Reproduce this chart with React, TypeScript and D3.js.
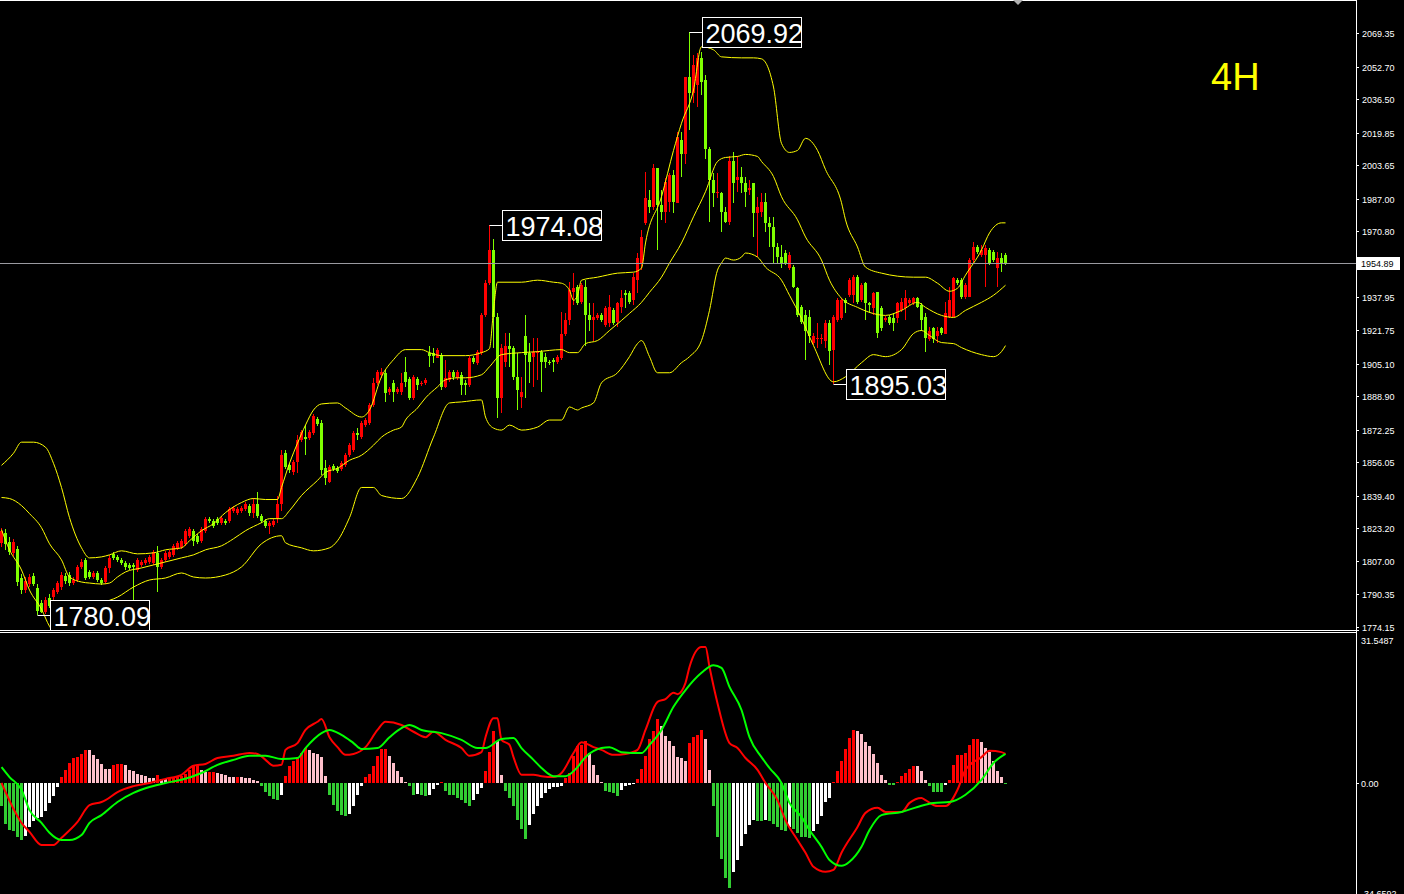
import React from 'react';
import * as d3 from 'd3';

// 4H candles, gold (one candle = 4px)
const opens = [
  1816, 1821, 1816.5, 1811, 1813, 1798.5, 1792.5, 1795.5, 1799.5, 1793.5,
  1786, 1781.5, 1788.5, 1789, 1791.5, 1794, 1799.5, 1800, 1796, 1797.5,
  1804, 1807.5, 1801.5, 1799, 1801, 1797.5, 1796.5, 1803.5, 1810.5, 1809,
  1807.5, 1806, 1805, 1805, 1802.5, 1805, 1806, 1806.5, 1806, 1811,
  1804, 1807.5, 1809, 1810, 1813.5, 1814, 1815.5, 1819.5, 1822, 1819.5,
  1817, 1822, 1828, 1827, 1828, 1826, 1827, 1827, 1832, 1831,
  1832, 1833, 1834.5, 1831, 1835.5, 1829.5, 1827, 1824.5, 1825, 1828.5,
  1835.5, 1860.5, 1854.5, 1851, 1856, 1867, 1868.5, 1868, 1870.5, 1877.5,
  1875.5, 1853, 1846, 1854, 1853, 1852.5, 1854.5, 1859.5, 1862, 1870.5,
  1868.5, 1874.5, 1875.5, 1884.5, 1895.5, 1899.5, 1900.5, 1891, 1895.5, 1891,
  1891, 1901, 1897.5, 1888, 1897.5, 1895, 1895.5, 1910.5, 1910.5, 1908,
  1909.5, 1893.5, 1897, 1901, 1898, 1899.5, 1895.5, 1894.5, 1908, 1905.5,
  1910.5, 1929, 1945, 1961.5, 1928, 1888, 1906, 1914, 1913, 1898.5,
  1888.5, 1919, 1910.5, 1908.5, 1910.5, 1911, 1908.5, 1906, 1907, 1906,
  1908, 1920, 1926.5, 1940.5, 1943, 1935.5, 1943, 1929, 1926.5, 1927.5,
  1929, 1924, 1925, 1931.5, 1925.5, 1933, 1940, 1940, 1936.5, 1946.5,
  1955, 1975, 1986.5, 1983, 2002.5, 1984, 1980.5, 1985.5, 1999, 1985,
  2016, 2009, 2047.5, 2039.5, 2043.5, 2057, 2046, 2011.5, 1996.5, 1990,
  1990, 1980.5, 1975.5, 2005.5, 1996.5, 1998, 1995, 1991.5, 1995, 1980,
  1980.5, 1985.5, 1975, 1973, 1963, 1958, 1960, 1952.5, 1953, 1942.5,
  1933, 1929, 1928, 1915.5, 1917.5, 1917.5, 1916.5, 1925, 1912, 1926.5,
  1927.5, 1936.5, 1939, 1939, 1948, 1936.5, 1945, 1935, 1932.5, 1940.5,
  1932.5, 1926.5, 1928, 1927.5, 1927.5, 1931.5, 1932.5, 1935, 1935, 1937.5,
  1934, 1928, 1917.5, 1922.5, 1919, 1922.5, 1920, 1928, 1928, 1946.5,
  1946.5, 1938, 1938, 1956.5, 1963, 1959, 1959, 1961.5, 1960.5, 1952.5,
  1957.5, 1959,
];
const highs = [
  1823.5, 1823, 1819, 1818, 1814.5, 1800.5, 1799, 1800.5, 1801, 1795.5,
  1787.5, 1789, 1790.5, 1793.5, 1797, 1801.5, 1801, 1801.5, 1799, 1805,
  1808, 1808.5, 1802.5, 1802, 1802, 1798.5, 1804.5, 1810, 1811.5, 1810,
  1808.5, 1807, 1806, 1806, 1808.5, 1807.5, 1808.5, 1810, 1812.5, 1814.5,
  1808.5, 1812, 1812.5, 1815.5, 1817, 1818, 1823, 1824, 1823, 1820.5,
  1824, 1829, 1829, 1828, 1829, 1829.5, 1828, 1834, 1834.5, 1834,
  1834.5, 1836.5, 1835.5, 1838.5, 1841, 1830.5, 1828, 1827, 1828, 1839.5,
  1862, 1862, 1855.5, 1857, 1869.5, 1872, 1874.5, 1872, 1880, 1878.5,
  1877, 1857, 1854.5, 1855, 1854, 1856.5, 1860.5, 1865.5, 1871.5, 1873,
  1876.5, 1878, 1885.5, 1898, 1902, 1903, 1902, 1893.5, 1897, 1893.5,
  1900.5, 1908.5, 1898.5, 1899.5, 1898.5, 1896.5, 1898, 1914, 1913, 1913,
  1910.5, 1907, 1902, 1902, 1902, 1901, 1897, 1909, 1909, 1912,
  1930, 1946.5, 1974.08, 1967, 1930, 1915, 1920.5, 1920.5, 1914, 1910.5,
  1898.5, 1929, 1915.5, 1918, 1918, 1912, 1910.5, 1907, 1908, 1909.5,
  1930.5, 1930, 1945.5, 1950, 1944, 1945, 1946.5, 1935, 1935, 1930,
  1930, 1933.5, 1939, 1932.5, 1935.5, 1941.5, 1941.5, 1941, 1950, 1960,
  1971.5, 2000.5, 1991.5, 2004, 2002.5, 1991.5, 1997.5, 2000, 2001.5, 2020,
  2020, 2047.5, 2069.92, 2058.5, 2059.5, 2060, 2048.5, 2012.5, 2000, 2000,
  1990.5, 1983, 2008, 2010, 2008, 2003, 1998, 1996.5, 1995, 1988,
  1990, 1990, 1978, 1978, 1965, 1964, 1961.5, 1960.5, 1954, 1943,
  1934, 1931.5, 1931.5, 1920.5, 1925, 1920, 1926.5, 1926.5, 1929, 1937.5,
  1937.5, 1937.5, 1947.5, 1949, 1949, 1945, 1945.5, 1935.5, 1940.5, 1940.5,
  1933.5, 1928.5, 1929, 1930, 1935.5, 1937.5, 1941.5, 1937.5, 1938, 1938,
  1935, 1930, 1923, 1923, 1923, 1923, 1935.5, 1943, 1948, 1947.5,
  1947.5, 1945, 1957.5, 1965.5, 1964, 1964, 1964, 1962.5, 1961.5, 1960.5,
  1960, 1960,
];
const lows = [
  1814, 1812.5, 1810, 1809.5, 1794.5, 1790.5, 1791, 1794, 1794.5, 1780.09,
  1781, 1780.5, 1783.5, 1787.5, 1790.5, 1792.5, 1795.5, 1794.5, 1795, 1796.5,
  1803, 1797.5, 1798, 1798, 1796.5, 1795, 1795.5, 1801, 1807.5, 1806.5,
  1805, 1802.5, 1802.5, 1787.5, 1801.5, 1804, 1805, 1805.5, 1805, 1791.5,
  1803, 1806.5, 1808, 1809, 1812.5, 1813, 1814.5, 1818.5, 1814.5, 1815.5,
  1816, 1821, 1826, 1823.5, 1825, 1825, 1825, 1826, 1831, 1830,
  1831, 1832, 1829.5, 1828.5, 1828.5, 1826, 1823.5, 1820.5, 1824, 1826,
  1832, 1852.5, 1850.5, 1849.5, 1850.5, 1866, 1859.5, 1867, 1869.5, 1874,
  1849.5, 1844.5, 1845.5, 1851.5, 1850.5, 1851.5, 1853.5, 1858.5, 1861, 1867,
  1867.5, 1873.5, 1874.5, 1883.5, 1894.5, 1898, 1886, 1889.5, 1886, 1890,
  1889.5, 1893.5, 1887, 1887, 1892, 1894, 1894.5, 1903.5, 1905.5, 1908,
  1892, 1893, 1896, 1897, 1897, 1889.5, 1889.5, 1893.5, 1905, 1904.5,
  1909.5, 1928, 1944, 1913, 1878, 1880.5, 1903.5, 1903.5, 1897, 1882,
  1883, 1888, 1895.5, 1893.5, 1897, 1891, 1903, 1904.5, 1901, 1905,
  1907, 1919, 1924, 1934, 1934, 1934.5, 1914, 1921.5, 1916.5, 1926.5,
  1925.5, 1923, 1923, 1924, 1923, 1930, 1932.5, 1934.5, 1934, 1940,
  1951.5, 1974, 1980, 1981.5, 1961.5, 1976.5, 1975, 1980.5, 1980, 1985,
  1998, 2004, 2021, 2034.5, 2032.5, 2038.5, 2006.5, 1975.5, 1983, 1987.5,
  1970.5, 1975, 1974, 1985, 1990.5, 1990, 1983, 1989, 1968, 1958,
  1978, 1970.5, 1963, 1955, 1955, 1952.5, 1954, 1951.5, 1942.5, 1928,
  1924.5, 1907, 1915.5, 1914.5, 1913, 1915, 1913, 1904.5, 1895.03, 1925.5,
  1926.5, 1930, 1938, 1935, 1934.5, 1935.5, 1926.5, 1930, 1929, 1918,
  1921.5, 1925.5, 1924, 1921.5, 1925, 1930.5, 1926.5, 1934, 1934, 1932.5,
  1921.5, 1911, 1916.5, 1915.5, 1915.5, 1919.5, 1920, 1927.5, 1928, 1944,
  1937, 1937, 1938, 1955, 1959.5, 1958, 1943, 1954, 1955.5, 1943,
  1950.5, 1954,
];
const closes = [
  1822, 1815.5, 1811.5, 1816.5, 1796.5, 1792.5, 1797, 1799, 1795.5, 1782,
  1781.5, 1787.5, 1784.5, 1792.5, 1796, 1800, 1797, 1796, 1797.5, 1804,
  1806.5, 1798.5, 1799, 1801, 1797.5, 1796, 1803.5, 1808.5, 1808.5, 1807.5,
  1806, 1804, 1803.5, 1804, 1807.5, 1806.5, 1807.5, 1809, 1811.5, 1804,
  1807.5, 1811, 1811.5, 1814.5, 1816, 1817, 1822, 1823, 1817, 1816.5,
  1823, 1828, 1827, 1824.5, 1826, 1828.5, 1826, 1833, 1833.5, 1833,
  1833.5, 1835.5, 1831, 1835.5, 1829.5, 1827, 1824.5, 1826, 1827, 1835.5,
  1859.5, 1853.5, 1852, 1856, 1867, 1871, 1867.5, 1871, 1879, 1875,
  1852, 1848, 1853.5, 1852.5, 1851.5, 1855.5, 1859.5, 1864.5, 1870.5, 1869.5,
  1875.5, 1877, 1884.5, 1895.5, 1901, 1901, 1890.5, 1892.5, 1891, 1892.5,
  1895.5, 1896, 1888, 1898.5, 1894.5, 1895.5, 1897, 1909, 1909, 1912,
  1893.5, 1898, 1901, 1898.5, 1901, 1894.5, 1894.5, 1908, 1906, 1911,
  1929, 1945, 1961.5, 1928, 1888, 1913, 1914, 1912.5, 1898.5, 1892,
  1891, 1909.5, 1906, 1911, 1911, 1906, 1906, 1905.5, 1906, 1908.5,
  1920, 1926.5, 1941.5, 1942.5, 1935, 1944, 1929, 1926.5, 1928, 1929,
  1926.5, 1932.5, 1933, 1925, 1935, 1937.5, 1939, 1935.5, 1948, 1957.5,
  1968, 1987.5, 1983, 2002.5, 1984, 1980.5, 1995.5, 1999, 1985.5, 2017.5,
  2009, 2047.5, 2039.5, 2053.5, 2057, 2045, 2011.5, 1996.5, 1990, 1990.5,
  1980.5, 1975.5, 2005.5, 1995, 1998, 1995, 1990.5, 1992.5, 1980, 1983,
  1985.5, 1975, 1973, 1963, 1958, 1955, 1955, 1959, 1943, 1929,
  1925.5, 1921.5, 1919, 1919, 1918, 1918, 1925, 1911.5, 1928, 1936.5,
  1936.5, 1935, 1946.5, 1948, 1935.5, 1944, 1935, 1934, 1940, 1920.5,
  1922.5, 1927.5, 1925, 1925, 1935, 1935.5, 1937.5, 1936.5, 1937.5, 1933,
  1926.5, 1918, 1921.5, 1917.5, 1921.5, 1920.5, 1930, 1936.5, 1947.5, 1945,
  1938, 1944, 1956.5, 1963, 1960.5, 1961.5, 1962.5, 1955, 1956.5, 1957.5,
  1955, 1954.89,
];

// Bollinger bands, read at [candle index, price]
const upperBand: [number, number][] = [
  [0, 1854.5], [3, 1860.5], [5, 1866], [8, 1866], [11, 1863.5], [13, 1855.5], [15, 1843.5],
  [17, 1828.5], [20, 1813.5], [22, 1808.5], [25, 1809], [27, 1810], [30, 1812], [34, 1810.5],
  [38, 1811], [41, 1812.5], [45, 1813.5], [47, 1817], [50, 1822], [53, 1825.5], [56, 1831],
  [60, 1836], [63, 1838], [66, 1837.5], [69, 1837.5], [70, 1843.5], [72, 1855.5], [74, 1865.5],
  [76, 1874.5], [78, 1882], [80, 1885], [84, 1885.5], [86, 1883], [90, 1878.5], [92, 1882],
  [95, 1898.5], [98, 1907], [101, 1912], [105, 1912], [107, 1910.5], [110, 1909], [116, 1909],
  [120, 1910.5], [122, 1912.5], [123, 1931.5], [124, 1945.5], [130, 1945.5], [134, 1946.5],
  [138, 1945.5], [140, 1945], [142, 1941.5], [143, 1936.5], [144, 1939], [145, 1946.5],
  [149, 1948], [154, 1950], [158, 1950.5], [160, 1952.5], [161, 1965], [165, 1988],
  [168, 2011], [170, 2024.5], [173, 2041], [175, 2062.5], [178, 2061], [180, 2057.5],
  [185, 2057], [188, 2057], [190, 2056.5], [193, 2042.5], [195, 2014.5], [197, 2010],
  [199, 2011], [201, 2017], [204, 2011], [206, 2001.5], [210, 1985], [211, 1976.5],
  [214, 1963], [216, 1953], [220, 1950], [228, 1948], [231, 1948], [234, 1945], [237, 1941],
  [239, 1942.5], [241, 1949], [245, 1961.5], [247, 1970], [250, 1975], [251, 1975],
];
const middleBand: [number, number][] = [
  [0, 1838.5], [2, 1838], [5, 1834.5], [7, 1830.5], [10, 1823.5], [12, 1815.5], [15, 1807.5],
  [17, 1799], [20, 1796.5], [22, 1796], [25, 1795.5], [27, 1796], [29, 1799], [31, 1801.5],
  [35, 1803.5], [38, 1805], [41, 1806.5], [45, 1808.5], [48, 1810], [51, 1812.5], [55, 1814.5],
  [58, 1818], [61, 1822], [65, 1826], [67, 1828], [70, 1828], [72, 1832], [75, 1839.5],
  [79, 1847], [81, 1851], [84, 1853], [87, 1857], [90, 1859.5], [93, 1864.5], [95, 1868.5],
  [98, 1872], [100, 1873.5], [101, 1877], [104, 1883], [106, 1888], [109, 1893.5], [111, 1897],
  [114, 1898], [116, 1898], [120, 1899.5], [122, 1903.5], [125, 1909.5], [130, 1910.5],
  [134, 1911], [140, 1912], [142, 1910.5], [144, 1910.5], [146, 1915], [149, 1916.5],
  [152, 1921.5], [155, 1926.5], [157, 1930], [160, 1935.5], [162, 1940.5], [165, 1948],
  [167, 1955], [170, 1965], [173, 1978], [176, 1990.5], [179, 2005.5], [181, 2007.5],
  [184, 2008], [186, 2009], [189, 2008], [190, 2005.5], [193, 1998], [195, 1988],
  [199, 1976.5], [201, 1968], [205, 1956.5], [207, 1946.5], [210, 1937.5], [214, 1933],
  [217, 1930.5], [221, 1929], [225, 1931.5], [229, 1935.5], [231, 1933], [235, 1929],
  [238, 1928], [241, 1931.5], [245, 1935.5], [248, 1939], [251, 1944],
];
const lowerBand: [number, number][] = [
  [0, 1822.5], [2, 1812.5], [5, 1802.5], [7, 1792.5], [10, 1783], [12, 1774.5], [15, 1769],
  [17, 1769], [20, 1779], [22, 1783.5], [25, 1786], [29, 1789], [33, 1794], [37, 1797.5],
  [41, 1798.5], [45, 1801], [48, 1799], [51, 1798.5], [56, 1800], [60, 1804], [65, 1815.5],
  [70, 1819.5], [71, 1816], [75, 1813.5], [78, 1812], [82, 1813.5], [84, 1817], [87, 1828.5],
  [90, 1843.5], [93, 1843.5], [95, 1839.5], [100, 1838], [104, 1848.5], [108, 1868.5],
  [112, 1885.5], [115, 1886], [120, 1887], [121, 1878.5], [123, 1873], [125, 1872],
  [127, 1874.5], [130, 1872], [134, 1873.5], [137, 1877], [140, 1877], [142, 1883.5],
  [144, 1882], [145, 1883], [148, 1885.5], [150, 1895.5], [154, 1900.5], [157, 1908.5],
  [159, 1915], [160, 1916.5], [162, 1908.5], [164, 1900.5], [167, 1900.5], [170, 1905.5],
  [172, 1908.5], [175, 1916.5], [177, 1931.5], [179, 1951.5], [180, 1955], [181, 1957.5],
  [183, 1956.5], [185, 1958], [186, 1960], [189, 1958], [191, 1953], [195, 1946.5],
  [197, 1939], [200, 1927.5], [203, 1914], [208, 1896], [211, 1898.5], [215, 1905.5],
  [218, 1909.5], [221, 1908.5], [225, 1912], [228, 1920], [230, 1921.5], [232, 1919],
  [235, 1915.5], [238, 1915], [240, 1913], [245, 1909.5], [248, 1908.5], [250, 1911],
  [251, 1914],
];

// MACD lines [candle index, value]
const difLine: [number, number][] = [
  [0, 0], [5, -8.8], [7, -10.8], [10, -13.7], [13, -13.7], [15, -12.1], [19, -8.6], [22, -4.9],
  [25, -4.2], [26, -3.8], [29, -2.0], [33, -0.7], [37, 0], [41, 0.9], [45, 1.8], [48, 3.8],
  [51, 4.2], [54, 5.5], [58, 6.0], [62, 6.6], [64, 6.4], [66, 5.1], [68, 3.8], [70, 4.0],
  [71, 7.3], [74, 8.8], [76, 11.7], [79, 13.5], [80, 14.1], [82, 10.1], [84, 7.9], [86, 6.2],
  [88, 6.4], [91, 7.9], [94, 11.7], [96, 13.5], [100, 12.8], [103, 11.3], [106, 10.1],
  [108, 11.3], [111, 9.5], [115, 7.7], [117, 6.0], [120, 6.8], [121, 10.1], [123, 14.3],
  [124, 14.3], [125, 9.5], [127, 8.4], [128, 5.7], [130, 1.8], [133, 1.8], [135, 1.5],
  [138, 1.3], [140, 2.2], [143, 6.6], [145, 9.0], [148, 7.9], [150, 7.3], [153, 6.2],
  [156, 6.4], [159, 7.3], [161, 11.7], [164, 17.9], [166, 18.5], [168, 19.9], [169, 19.6],
  [171, 22.1], [172, 25.6], [175, 30.0], [176, 30.0], [177, 25.6], [179, 17.6], [182, 8.8],
  [184, 7.7], [186, 5.5], [189, 2.9], [191, 0], [194, -3.8], [196, -8.2], [199, -12.6],
  [201, -15.4], [203, -18.5], [206, -19.6], [208, -19.2], [210, -15.4], [214, -9.7],
  [216, -6.6], [219, -5.5], [221, -6.4], [225, -6.4], [227, -4.4], [230, -3.3], [231, -3.8],
  [234, -5.1], [236, -5.1], [239, -1.5], [241, 2.9], [245, 5.7], [247, 7.1], [250, 6.8],
  [251, 6.4],
];
const deaLine: [number, number][] = [
  [0, 3.5], [2, 1.3], [5, -1.5], [7, -6.0], [10, -8.8], [12, -11.0], [15, -12.6], [17, -12.6],
  [20, -11.5], [22, -8.8], [25, -7.1], [29, -4.2], [33, -2.2], [37, -0.9], [41, 0], [45, 0.7],
  [50, 2.2], [54, 4.0], [58, 5.1], [62, 6.0], [66, 6.0], [70, 5.3], [74, 5.5], [76, 7.7],
  [80, 11.0], [82, 11.7], [85, 10.6], [88, 8.8], [90, 7.5], [94, 7.7], [97, 10.1], [100, 12.1],
  [102, 12.8], [105, 11.7], [110, 11.0], [115, 9.5], [119, 7.7], [121, 7.7], [125, 9.7],
  [128, 9.9], [130, 7.7], [133, 5.1], [135, 3.3], [138, 1.5], [141, 1.5], [144, 3.5],
  [146, 5.7], [150, 7.7], [152, 7.9], [155, 6.8], [160, 6.6], [162, 8.4], [165, 11.7],
  [168, 16.8], [171, 20.5], [175, 24.3], [178, 26.0], [180, 25.4], [182, 21.2], [185, 16.1],
  [187, 10.1], [190, 5.7], [192, 3.3], [195, 0], [197, -4.4], [200, -7.5], [202, -10.4],
  [205, -14.1], [207, -17.0], [210, -18.3], [212, -17.4], [215, -14.1], [217, -10.4],
  [220, -7.1], [225, -6.4], [229, -5.3], [233, -4.4], [237, -4.2], [241, -2.6], [245, 0.7],
  [248, 4.4], [251, 6.4],
];
const macdHist = [
  -5.1, -9.0, -10.4, -10.6, -11.9, -12.6, -11.7, -9.7, -8.4, -7.7,
  -7.6, -6.2, -4.4, -2.9, -0.9, 1.3, 2.9, 4.4, 5.5, 5.7,
  6.4, 7.3, 7.2, 6.2, 5.3, 4.2, 3.1, 3.0, 4.0, 4.1,
  4.2, 4.0, 2.9, 2.6, 2.0, 1.8, 1.5, 1.1, 1.0, 1.8,
  0.9, 0.8, 1.1, 1.2, 1.3, 1.5, 2.0, 2.9, 3.7, 4.0,
  2.9, 2.4, 2.5, 2.5, 2.2, 2.0, 1.8, 1.4, 1.3, 1.4,
  1.3, 1.2, 1.1, 0.7, 0.4, -0.7, -2.0, -2.9, -3.5, -3.8,
  -2.6, 1.5, 3.7, 4.9, 5.7, 6.6, 7.7, 7.3, 6.6, 6.4,
  5.7, 1.5, -2.6, -4.9, -6.2, -7.1, -7.2, -6.8, -5.1, -2.6,
  -0.7, 1.3, 2.0, 3.7, 6.0, 7.5, 7.6, 6.0, 4.4, 2.6,
  1.3, 0.2, -0.7, -2.6, -2.5, -2.7, -2.9, -2.6, -1.3, -0.4,
  0.2, -1.8, -2.6, -2.7, -3.3, -3.8, -4.4, -5.1, -3.8, -2.4,
  -1.1, 2.6, 6.8, 11.5, 9.3, 1.8, -1.8, -3.3, -5.1, -8.2,
  -10.1, -12.4, -9.3, -6.8, -5.1, -3.3, -2.2, -1.3, -0.9, -0.8,
  -0.7, 1.1, 2.2, 6.0, 8.2, 8.4, 9.3, 6.6, 4.0, 1.8,
  0.2, -1.8, -2.0, -2.2, -2.9, -1.5, -0.7, -0.4, -0.3, 0.9,
  3.1, 6.0, 9.7, 11.5, 14.1, 12.6, 10.4, 9.3, 8.2, 5.7,
  5.5, 4.9, 8.8, 10.1, 10.6, 11.7, 9.7, 2.9, -5.1, -11.9,
  -16.8, -21.0, -23.2, -19.6, -17.0, -13.9, -11.3, -9.3, -8.2, -8.4,
  -8.5, -8.2, -8.4, -9.0, -9.7, -10.4, -10.6, -9.7, -10.1, -11.0,
  -11.9, -12.0, -12.1, -10.6, -9.0, -7.3, -4.2, -3.3, 0.2, 2.6,
  4.9, 7.5, 9.9, 11.7, 11.5, 10.8, 9.0, 8.2, 6.4, 4.4,
  1.8, 0.7, -0.4, -0.5, 0.2, 1.5, 2.2, 3.1, 3.8, 3.7,
  2.6, 0.7, -0.7, -2.0, -2.0, -2.1, -0.4, 0.7, 4.0, 6.2,
  6.2, 6.6, 8.4, 9.7, 9.7, 9.0, 7.7, 6.8, 4.9, 2.6,
  1.3, -0.2,
];

const priceTicks = [
  2069.35, 2052.7, 2036.5, 2019.85, 2003.65, 1987.0, 1970.8, 1937.95, 1921.75,
  1905.1, 1888.9, 1872.25, 1856.05, 1839.4, 1823.2, 1807.0, 1790.35, 1774.15,
];
const lastPrice = 1954.89;
const macdMax = 31.5487;
const macdMin = -34.6592;

// labelled swing points: candle index + which end of the candle
const pivots: { i: number; side: 'high' | 'low' }[] = [
  { i: 9, side: 'low' },
  { i: 122, side: 'high' },
  { i: 172, side: 'high' },
  { i: 208, side: 'low' },
];

const W = 1404;
const H = 894;
const AXIS_X = 1356;
const MAIN_BOTTOM = 630;
const SUB_TOP = 633;
const STEP = 4;

const BULL = '#ff0000';
const BEAR = '#7fff00';
const AXIS_FONT = '"Liberation Sans", Arial, sans-serif';

export default function App() {
  const n = closes.length;
  const x = d3.scaleLinear().domain([0, n - 1]).range([0, STEP * (n - 1)]);
  const xc = (i: number) => x(i) + 1.5;
  const y = d3.scaleLinear().domain([1774.15, 2069.35]).range([627, 33]);
  const ym = d3.scaleLinear().domain([macdMin, macdMax]).range([940, 640]);

  const bandPath = d3
    .line<[number, number]>()
    .x(d => xc(d[0]))
    .y(d => y(d[1]))
    .curve(d3.curveMonotoneX);
  const macdPath = d3
    .line<[number, number]>()
    .x(d => xc(d[0]))
    .y(d => ym(d[1]))
    .curve(d3.curveMonotoneX);

  const histColor = (i: number) => {
    const v = macdHist[i];
    const p = i > 0 ? macdHist[i - 1] : 0;
    if (v >= 0) return v >= p ? '#ff0000' : '#ffc0cb';
    return v <= p ? '#32cd32' : '#ffffff';
  };

  const zero = ym(0);

  return (
    <div style={{ position: 'fixed', left: 0, top: 0, width: W, height: H, background: '#000' }}>
      <svg width={W} height={H} style={{ display: 'block' }}>
        <defs>
          <clipPath id="main-clip">
            <rect x={0} y={0} width={AXIS_X} height={MAIN_BOTTOM} />
          </clipPath>
          <clipPath id="sub-clip">
            <rect x={0} y={SUB_TOP} width={AXIS_X} height={H - SUB_TOP} />
          </clipPath>
        </defs>
        <rect x={0} y={0} width={W} height={H} fill="#000" />

        {/* price panel */}
        <g clipPath="url(#main-clip)">
          <g shapeRendering="crispEdges">
            {closes.map((c, i) => {
              const o = opens[i];
              const col = c >= o ? BULL : BEAR;
              const top = y(Math.max(o, c));
              const bh = Math.max(1, Math.abs(y(o) - y(c)));
              return (
                <g key={i}>
                  <rect x={x(i) + 1} y={y(highs[i])} width={1} height={y(lows[i]) - y(highs[i])} fill={col} />
                  <rect x={x(i)} y={top} width={3} height={bh} fill={col} />
                </g>
              );
            })}
          </g>
          {[upperBand, middleBand, lowerBand].map((b, k) => (
            <path key={k} d={bandPath(b) || ''} fill="none" stroke="#ffff00" strokeWidth={1} />
          ))}
          <line x1={0} x2={AXIS_X} y1={Math.round(y(lastPrice)) + 0.5} y2={Math.round(y(lastPrice)) + 0.5} stroke="#9a9aa0" strokeWidth={1} />
        </g>

        {/* swing labels */}
        {pivots.map(p => {
          const price = p.side === 'high' ? highs[p.i] : lows[p.i];
          const px = xc(p.i);
          const py = Math.round(y(price)) + 0.5;
          const bx = Math.round(px) + 12.5;
          return (
            <g key={p.i}>
              <line x1={px} x2={bx} y1={py} y2={py} stroke="#fff" strokeWidth={1} />
              <rect x={bx} y={py - 15} width={99} height={30} fill="#000" stroke="#fff" strokeWidth={1} />
              <text x={bx + 3} y={py + 10} fill="#fff" fontFamily={AXIS_FONT} fontSize={27}>
                {price.toFixed(2)}
              </text>
            </g>
          );
        })}

        <text x={1211} y={90} fill="#ffff00" fontFamily={AXIS_FONT} fontSize={38}>4H</text>

        {/* MACD panel */}
        <g clipPath="url(#sub-clip)">
          <g shapeRendering="crispEdges">
            {macdHist.map((v, i) => (
              <rect
                key={i}
                x={x(i)}
                y={Math.min(ym(v), zero)}
                width={3}
                height={Math.abs(ym(v) - zero)}
                fill={histColor(i)}
              />
            ))}
          </g>
          <path d={macdPath(difLine) || ''} fill="none" stroke="#ff0000" strokeWidth={2} />
          <path d={macdPath(deaLine) || ''} fill="none" stroke="#00ff00" strokeWidth={2} />
        </g>

        {/* frame */}
        <g shapeRendering="crispEdges" stroke="#fff" strokeWidth={1}>
          <line x1={0} x2={AXIS_X} y1={0.5} y2={0.5} />
          <line x1={AXIS_X + 0.5} x2={AXIS_X + 0.5} y1={0} y2={H} />
          <line x1={0} x2={AXIS_X + 3} y1={MAIN_BOTTOM + 0.5} y2={MAIN_BOTTOM + 0.5} />
          <line x1={0} x2={AXIS_X} y1={SUB_TOP - 0.5} y2={SUB_TOP - 0.5} />
        </g>
        <polygon points="1013,0 1023,0 1018,5" fill="#b0b0b0" />

        {/* price axis */}
        {priceTicks.map(t => {
          const ty = Math.round(y(t));
          return (
            <g key={t}>
              <line x1={AXIS_X} x2={AXIS_X + 3} y1={ty + 0.5} y2={ty + 0.5} stroke="#fff" shapeRendering="crispEdges" />
              <text x={1362} y={ty + 3.5} fill="#fff" fontFamily={AXIS_FONT} fontSize={9}>
                {t.toFixed(2)}
              </text>
            </g>
          );
        })}
        <g>
          <rect x={1357} y={Math.round(y(lastPrice)) - 6} width={43} height={13} fill="#fff" />
          <text x={1361} y={Math.round(y(lastPrice)) + 4} fill="#000" fontFamily={AXIS_FONT} fontSize={9}>
            {lastPrice.toFixed(2)}
          </text>
        </g>

        {/* MACD axis */}
        <text x={1361} y={644} fill="#fff" fontFamily={AXIS_FONT} fontSize={9}>{macdMax.toFixed(4)}</text>
        <line x1={AXIS_X} x2={AXIS_X + 3} y1={Math.round(zero) + 0.5} y2={Math.round(zero) + 0.5} stroke="#fff" shapeRendering="crispEdges" />
        <text x={1361} y={Math.round(zero) + 3.5} fill="#fff" fontFamily={AXIS_FONT} fontSize={9}>0.00</text>
        <text x={1361} y={897} fill="#fff" fontFamily={AXIS_FONT} fontSize={9}>{macdMin.toFixed(4)}</text>
      </svg>
    </div>
  );
}
